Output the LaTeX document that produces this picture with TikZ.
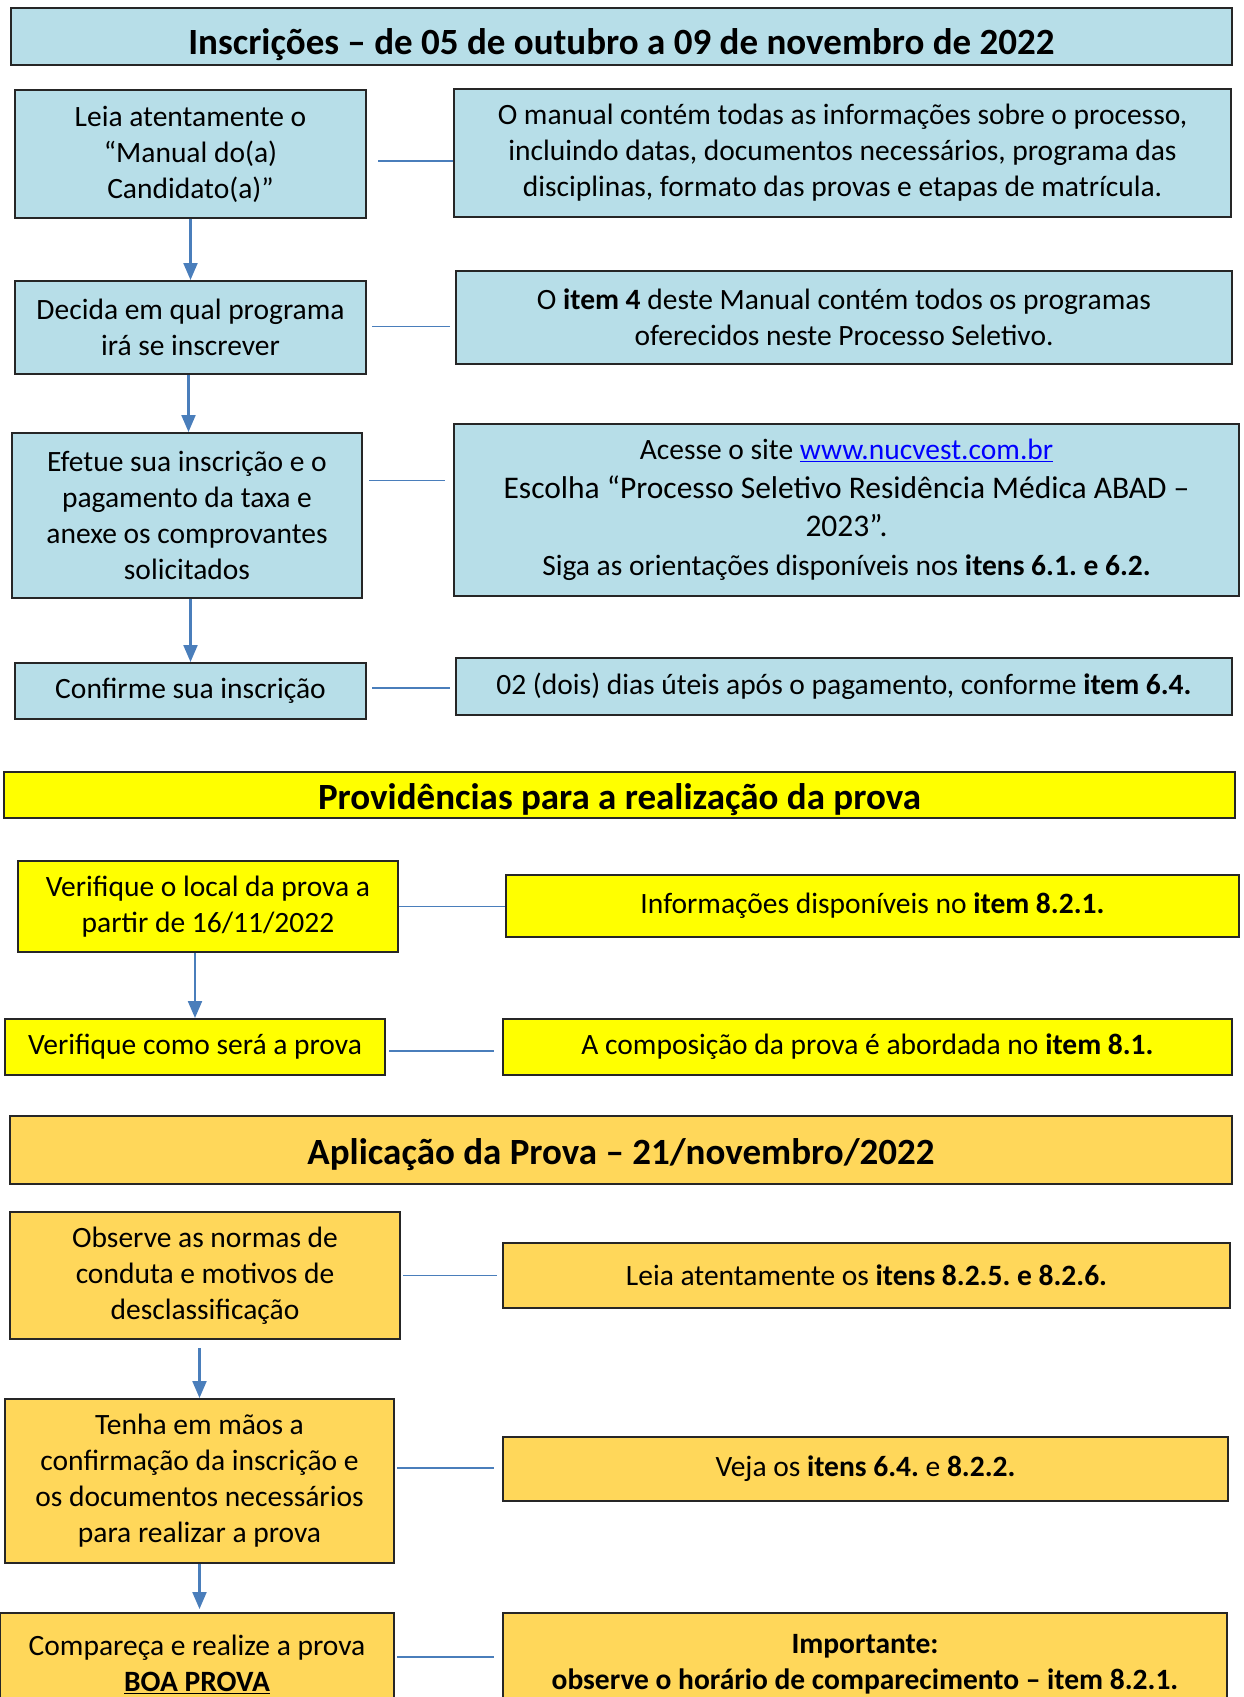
\documentclass[tikz,border=0pt]{standalone}
\usepackage{fontspec}
\setmainfont{Carlito}
\frenchspacing
\usetikzlibrary{arrows.meta}
\definecolor{boxblue}{HTML}{B7DEE8}
\definecolor{boxyellow}{HTML}{FFFF00}
\definecolor{boxgold}{HTML}{FFD75A}
\definecolor{linkblue}{HTML}{4A7EBB}
\definecolor{urlblue}{HTML}{0000FF}
\tikzstyle{base} = [rectangle, draw=black!85, line width=2pt, align=center, inner sep=0pt, font=\fontsize{29.5}{36}\selectfont]
\tikzstyle{blbox} = [base, fill=boxblue]
\tikzstyle{ylbox} = [base, fill=boxyellow]
\tikzstyle{gdbox} = [base, fill=boxgold]
\tikzstyle{header} = [font=\fontsize{37}{44}\selectfont\bfseries, text height=33pt, text depth=5pt]
\tikzstyle{arrow} = [draw=linkblue, line width=2.2pt, -{Triangle[length=17pt,width=14pt]}]
\tikzstyle{link} = [draw=linkblue, line width=1.6pt]

\begin{document}
\begin{tikzpicture}[x=1pt, y=-1pt]
			\path [use as bounding box, clip] (0,0) rectangle (1244,1697);
			\fill [white] (0,0) rectangle (1244,1697);
			
			% Inscricoes
			\node (headone) [blbox, header, text height=40pt, minimum width=1221, minimum height=57] at (621.5,36.5) {Inscrições – de 05 de outubro a 09 de novembro de 2022};
			\node (lone) [blbox, minimum width=351, minimum height=128] at (190.5,154) {Leia atentamente o\\“Manual do(a)\\Candidato(a)”};
			\node (rone) [blbox, minimum width=777, minimum height=128] at (842.5,153) {O manual contém todas as informações sobre o processo,\\incluindo datas, documentos necessários, programa das\\disciplinas, formato das provas e etapas de matrícula.};
			\node (ltwo) [blbox, minimum width=351, minimum height=93] at (190.5,327.5) {Decida em qual programa\\irá se inscrever};
			\node (rtwo) [blbox, minimum width=776, minimum height=93] at (844,317.5) {O \textbf{item 4} deste Manual contém todos os programas\\oferecidos neste Processo Seletivo.};
			\node (lthree) [blbox, minimum width=350, minimum height=165] at (187,515.5) {Efetue sua inscrição e o\\pagamento da taxa e\\anexe os comprovantes\\solicitados};
			\node (rthree) [blbox, minimum width=785, minimum height=172] at (846.5,510) {Acesse o site \textcolor{urlblue}{\underline{www.nucvest.com.br}}\\[2.5pt]{\fontsize{31.5}{38}\selectfont Escolha “Processo Seletivo Residência Médica ABAD –}\\[2.5pt]{\fontsize{31.5}{38}\selectfont 2023”.}\\[2.5pt]Siga as orientações disponíveis nos \textbf{itens 6.1. e 6.2.}};
			\node (lfour) [blbox, minimum width=351, minimum height=56] at (190.5,691) {Confirme sua inscrição};
			\node (rfour) [blbox, minimum width=776, minimum height=57] at (844,686.5) {02 (dois) dias úteis após o pagamento, conforme \textbf{item 6.4.}};
			
			% Providencias
			\node (headtwo) [ylbox, header, minimum width=1231, minimum height=46] at (619.5,795) {Providências para a realização da prova};
			\node (yone) [ylbox, minimum width=380, minimum height=91] at (208,906.5) {Verifique o local da prova a\\partir de 16/11/2022};
			\node (yrone) [ylbox, minimum width=733, minimum height=62] at (872.5,906) {Informações disponíveis no \textbf{item 8.2.1.}};
			\node (ytwo) [ylbox, minimum width=380, minimum height=56] at (195,1047) {Verifique como será a prova};
			\node (yrtwo) [ylbox, minimum width=729, minimum height=56] at (867.5,1047) {A composição da prova é abordada no \textbf{item 8.1.}};
			
			% Aplicacao
			\node (headthree) [gdbox, header, minimum width=1222, minimum height=68] at (621,1150) {Aplicação da Prova – 21/novembro/2022};
			\node (oone) [gdbox, minimum width=390, minimum height=127] at (205,1275.5) {Observe as normas de\\conduta e motivos de\\desclassificação};
			\node (orone) [gdbox, minimum width=727, minimum height=65] at (866.5,1275.5) {Leia atentamente os \textbf{itens 8.2.5. e 8.2.6.}};
			\node (otwo) [gdbox, minimum width=389, minimum height=164] at (199.5,1481) {Tenha em mãos a\\confirmação da inscrição e\\os documentos necessários\\para realizar a prova};
			\node (ortwo) [gdbox, minimum width=725, minimum height=64] at (865.5,1469) {Veja os \textbf{itens 6.4.} e \textbf{8.2.2.}};
			\node (othree) [gdbox, minimum width=394, minimum height=102] at (197,1664) {Compareça e realize a prova\\\textbf{\underline{BOA PROVA}}};
			\node (orthree) [gdbox, minimum width=724, minimum height=102] at (865,1664) {\textbf{Importante:}\\\textbf{observe o horário de comparecimento – item 8.2.1.}};
			
			% Arrows
			\draw [arrow] (lone.south) -- (ltwo.north);
			\draw [arrow] ([xshift=-2]ltwo.south) -- ([xshift=-2]ltwo.south |- lthree.north);
			\draw [arrow] (lfour.north |- lthree.south) -- (lfour.north);
			\draw [arrow] (ytwo.north |- yone.south) -- (ytwo.north);
			\draw [arrow] ([yshift=-8]otwo.north |- oone.south) -- (otwo.north);
			\draw [arrow] (otwo.south) -- ([yshift=3]otwo.south |- othree.north);
			
			% Links
			\draw [link] ([xshift=11,yshift=-7]lone.east) -- ([yshift=-7]lone.east -| rone.west);
			\draw [link] ([xshift=5,yshift=1]ltwo.east) -- ([xshift=-5,yshift=1]ltwo.east -| rtwo.west);
			\draw [link] ([xshift=6,yshift=35]lthree.east) -- ([xshift=-8,yshift=35]lthree.east -| rthree.west);
			\draw [link] ([xshift=5,yshift=3]lfour.east) -- ([xshift=-5,yshift=3]lfour.east -| rfour.west);
			\draw [link] (yone.east) -- (yone.east -| yrone.west);
			\draw [link] ([xshift=3,yshift=-4]ytwo.east) -- ([xshift=-8,yshift=-4]ytwo.east -| yrtwo.west);
			\draw [link] ([xshift=2]oone.east) -- ([xshift=-5]oone.east -| orone.west);
			\draw [link] ([xshift=2,yshift=13]otwo.east) -- ([xshift=-8,yshift=13]otwo.east -| ortwo.west);
			\draw [link] ([xshift=2,yshift=7]othree.east) -- ([xshift=-8,yshift=7]othree.east -| orthree.west);
\end{tikzpicture}
\end{document}
